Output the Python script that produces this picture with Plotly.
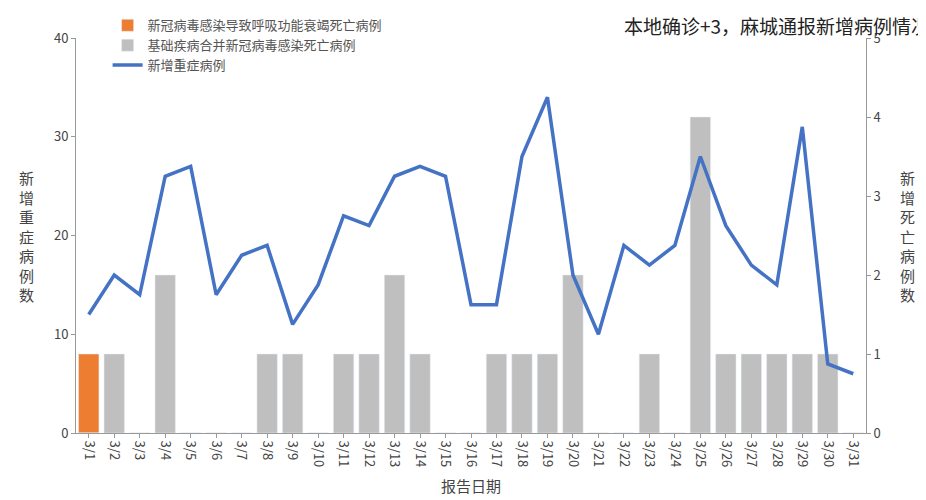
import plotly.graph_objects as go

dates = [f"3/{d}" for d in range(1, 32)]
severe_new = [12, 16, 14, 26, 27, 14, 18, 19, 11, 15, 22, 21, 26, 27, 26, 13,
              13, 28, 34, 16, 10, 19, 17, 19, 28, 21, 17, 15, 31, 7, 6]
death_covid = [1] + [0] * 30
death_base = [0, 1, 0, 2, 0, 0, 0, 1, 1, 0, 1, 1, 2, 1, 0, 0,
              1, 1, 1, 2, 0, 0, 1, 0, 4, 1, 1, 1, 1, 1, 0]

font = "Noto Sans CJK SC"
fig = go.Figure()
fig.add_trace(go.Bar(name="新冠病毒感染导致呼吸功能衰竭死亡病例", x=dates, y=death_covid,
                     marker_color="#ED7D31", yaxis="y"))
fig.add_trace(go.Bar(name="基础疾病合并新冠病毒感染死亡病例", x=dates, y=death_base,
                     marker_color="#BFBFBF", yaxis="y"))
fig.add_trace(go.Scatter(name="新增重症病例", x=dates, y=severe_new, mode="lines",
                         line=dict(color="#4472C4", width=3.5), yaxis="y2"))

axis_common = dict(showgrid=False, showline=True, linecolor="#999", ticks="outside",
                   ticklen=4, tickcolor="#999", tickfont=dict(size=13, color="#444"))
fig.update_layout(
    width=926, height=500, plot_bgcolor="white", paper_bgcolor="white",
    font=dict(family=font, color="#444"),
    margin=dict(l=68, r=68, t=30, b=75, autoexpand=False),
    barmode="overlay", bargap=0.2, showlegend=True,
    legend=dict(x=0.04, y=1.07, xanchor="left", yanchor="top", bgcolor="rgba(0,0,0,0)",
                font=dict(size=13, color="#555"), tracegroupgap=0, itemwidth=30),
    xaxis=dict(**axis_common, tickangle=90, title=dict(text="报告日期", font=dict(size=15))),
    yaxis=dict(**axis_common, side="right", range=[0, 5], dtick=1),
    yaxis2=dict(**axis_common, side="left", overlaying="y", range=[0, 40], dtick=10),
    annotations=[
        dict(text="本地确诊+3，麻城通报新增病例情况", xref="paper", yref="paper", x=1.084, y=1.07,
             xanchor="right", yanchor="top", showarrow=False, font=dict(size=19, color="#222")),
        dict(text="<br>".join("新增重症病例数"), xref="paper", yref="paper", x=-0.063, y=0.5,
             xanchor="center", showarrow=False, font=dict(size=15, color="#444")),
        dict(text="<br>".join("新增死亡病例数"), xref="paper", yref="paper", x=1.053, y=0.5,
             xanchor="center", showarrow=False, font=dict(size=15, color="#444")),
    ],
)
fig.write_html("out.html")
